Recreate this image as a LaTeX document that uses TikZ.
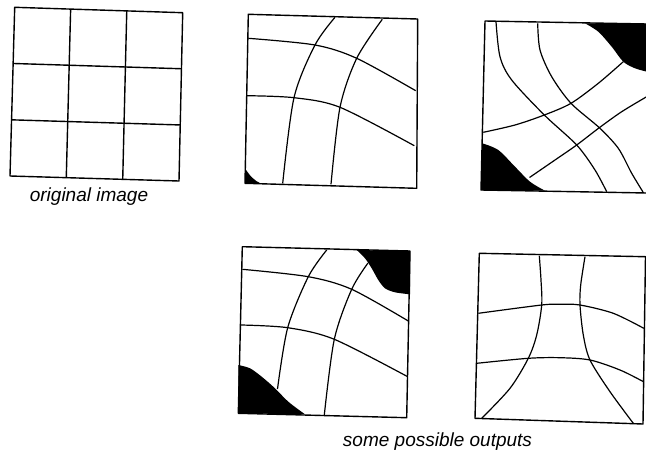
\documentclass[tikz,border=0pt]{standalone}
\usepackage{fontspec}
\newfontfamily\capfont{Liberation Sans}
\usetikzlibrary{calc,positioning}
\tikzset{
  frame/.style={draw=black,line width=1.4pt,line join=round},
  warp/.style={draw=black,line width=1.2pt},
  blob/.style={fill=black},
  caption/.style={font=\capfont\itshape\fontsize{19}{22}\selectfont,inner sep=0pt},
}

\begin{document}
\begin{tikzpicture}[x=1pt,y=-1pt]
  \useasboundingbox (0,0) rectangle (646,453);
  % original image: plain 3x3 grid
  \coordinate (o1) at (14.7,7.3);
  \coordinate (o2) at (182.7,12.7);
  \coordinate (o3) at (179,181);
  \coordinate (o4) at (10,176);
  \draw[frame] (o1) -- (o2) -- (o3) -- (o4) -- cycle;
  \foreach \t in {0.333,0.667} {
    \draw[frame] ($(o1)!\t!(o2)$) -- ($(o4)!\t!(o3)$);
    \draw[frame] ($(o1)!\t!(o4)$) -- ($(o2)!\t!(o3)$);
  }
  \node[caption] (orig) at (89,196.5) {original image};

  % output 1
  \coordinate (a1) at (248.3,14.3);
  \coordinate (a2) at (417.7,19);
  \coordinate (a3) at (416.7,188.3);
  \coordinate (a4) at (245,183.3);
  \fill[blob] (245,168.3) .. controls (250,176) and (254,180.5) .. (261,183.6) -- (a4) -- cycle;
  \draw[warp] plot[smooth] coordinates {(248.3,38.3) (315,45) (356.7,58.3) (415.7,90.7)};
  \draw[warp] plot[smooth] coordinates {(246.7,95.7) (294,97.7) (340,107.3) (414.3,145.7)};
  \draw[warp] plot[smooth] coordinates {(335,17.3) (315,45) (294,97.7) (282.7,183.3)};
  \draw[warp] plot[smooth] coordinates {(382.3,19.3) (356.7,58.3) (340,107.3) (331,184.3)};
  \draw[frame] (a1) -- (a2) -- (a3) -- (a4) -- cycle;

  % output 2 (runs off the right edge)
  \coordinate (b1) at (485,21);
  \coordinate (b2) at (647,24);
  \coordinate (b3) at (647,193);
  \coordinate (b4) at (481,190);
  \fill[blob] plot[smooth] coordinates {(585,23.3) (598.3,31.7) (611.7,46.7) (623.3,61.7) (635,68.3) (647,71.7)} -- (b2) -- cycle;
  \fill[blob] plot[smooth] coordinates {(482.3,143.3) (498.3,150) (515,166.7) (530,181.7) (545,190.7)} -- (b4) -- cycle;
  \draw[warp] plot[smooth] coordinates {(496,21.7) (500,56.7) (511.7,80) (544.3,115) (576.7,145) (595,170) (606.7,191.7)};
  \draw[warp] plot[smooth] coordinates {(537.7,23.3) (540,50) (551.7,76.7) (571,103.3) (599.3,127.7) (618.3,148.3) (631.7,173.3) (643,192)};
  \draw[warp] plot[smooth] coordinates {(483.3,132.3) (515,125) (544.3,115) (571,103.3) (598.3,83.3) (623.3,61.7)};
  \draw[warp] plot[smooth] coordinates {(529.5,177.5) (555,160) (576.7,145) (599.3,127.7) (621.7,111.7) (646.7,96.7)};
  \draw[frame] (b2) -- (b1) -- (b4) -- (b3);

  % output 3
  \coordinate (c1) at (242.3,246.7);
  \coordinate (c2) at (410,251);
  \coordinate (c3) at (406.7,417.7);
  \coordinate (c4) at (238.3,413.3);
  \fill[blob] plot[smooth] coordinates {(356.7,250) (365,258.3) (371.7,268.3) (378.3,280) (385,288.3) (395,292.3) (410,294.3)} -- (c2) -- cycle;
  \fill[blob] plot[smooth] coordinates {(238.3,365) (250,368.3) (261.7,376.7) (275,388.3) (288.3,401.7) (305,414.3)} -- (c4) -- cycle;
  \draw[warp] plot[smooth] coordinates {(242.3,269.3) (308.3,276.7) (351.7,289.3) (408.3,321)};
  \draw[warp] plot[smooth] coordinates {(241,325) (287.7,327.7) (334.3,339.3) (407.7,376.7)};
  \draw[warp] plot[smooth] coordinates {(326.7,250) (308.3,276.7) (287.7,327.7) (277.5,389)};
  \draw[warp] plot[smooth] coordinates {(368,263) (351.7,289.3) (334.3,339.3) (324.3,415)};
  \draw[frame] (c1) -- (c2) -- (c3) -- (c4) -- cycle;

  % output 4
  \coordinate (d1) at (479.3,253.3);
  \coordinate (d2) at (645.5,256.7);
  \coordinate (d3) at (643,424);
  \coordinate (d4) at (475,418.3);
  \draw[warp] plot[smooth] coordinates {(539.3,255.7) (541,280) (541.7,305) (536.7,335) (528.3,358.3) (510,388.3) (481.7,418.3)};
  \draw[warp] plot[smooth] coordinates {(585,256.7) (580.7,285) (580,305) (583.3,335) (590,360) (610,391.7) (633.3,423.3)};
  \draw[warp] plot[smooth] coordinates {(478.3,313.3) (541.7,305) (560,304.3) (580,305) (613.3,313.3) (643.8,328.3)};
  \draw[warp] plot[smooth] coordinates {(476.7,363.3) (528.3,358.3) (560,357.7) (590,360) (620,370) (643.5,381.7)};
  \draw[frame] (d1) -- (d2) -- (d3) -- (d4) -- cycle;
  \node[caption] (outs) at (437.5,441.5) {some possible outputs};
\end{tikzpicture}
\end{document}
